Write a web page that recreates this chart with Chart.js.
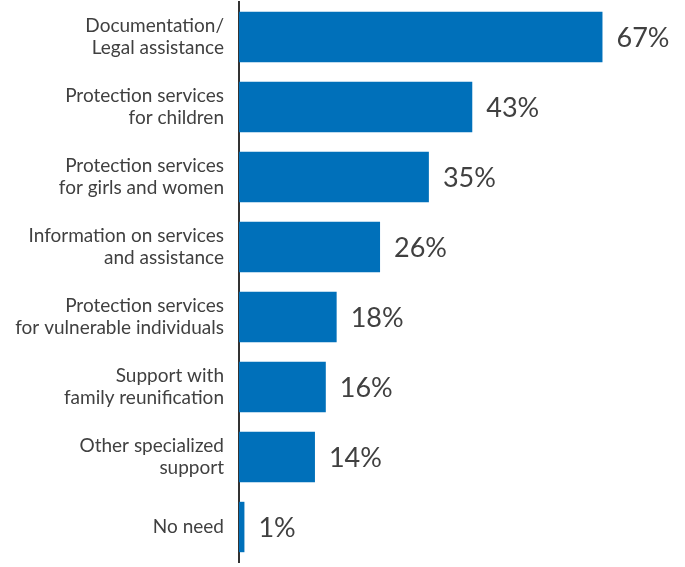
<!DOCTYPE html>
<html lang="en">
<head>
  <meta charset="UTF-8">
  <title>Protection needs</title>
  <script src="https://cdn.jsdelivr.net/npm/chart.js"></script>
  <style>
    html, body { margin: 0; padding: 0; background: #fff; }
    #wrap { width: 685px; height: 567px; position: relative; }
  </style>
</head>
<body>
  <div id="wrap"><canvas id="myChart"></canvas></div>
  <script>
    const categories = [
      ['Documentation/', 'Legal assistance'],
      ['Protection services', 'for children'],
      ['Protection services', 'for girls and women'],
      ['Information on services', 'and assistance'],
      ['Protection services', 'for vulnerable individuals'],
      ['Support with', 'family reunification'],
      ['Other specialized', 'support'],
      'No need'
    ];
    const values = [67, 43, 35, 26, 18, 16, 14, 1];

    // percentage labels at the end of each bar
    const valueLabels = {
      id: 'valueLabels',
      afterDatasetsDraw(chart) {
        const ctx = chart.ctx;
        const meta = chart.getDatasetMeta(0);
        ctx.save();
        ctx.font = '27px Lato';
        ctx.fillStyle = '#404040';
        ctx.textAlign = 'left';
        ctx.textBaseline = 'middle';
        meta.data.forEach((bar, i) => {
          ctx.fillText(values[i] + '%', bar.x + 14, bar.y + 1);
        });
        ctx.restore();
      }
    };

    const ctx = document.getElementById('myChart');
    new Chart(ctx, {
      type: 'bar',
      data: {
        labels: categories,
        datasets: [{
          data: values,
          backgroundColor: '#0070BA',
          borderWidth: 0,
          barPercentage: 0.72,
          categoryPercentage: 1
        }]
      },
      options: {
        indexAxis: 'y',
        responsive: true,
        maintainAspectRatio: false,
        animation: false,
        layout: { padding: { top: 2, bottom: 5, right: 12, left: 0 } },
        plugins: { legend: { display: false }, tooltip: { enabled: false } },
        scales: {
          x: {
            display: false,
            min: 0,
            max: 80
          },
          y: {
            grid: { display: false, drawTicks: false },
            border: { display: true, color: '#333333', width: 2 },
            ticks: {
              color: '#404040',
              font: { family: 'Lato', size: 19, lineHeight: 1.16 },
              padding: 15
            },
            afterFit(scale) {
              scale.width = 239;
              scale.paddingTop = 0;
              scale.paddingBottom = 0;
            }
          }
        }
      },
      plugins: [valueLabels]
    });
  </script>
</body>
</html>
